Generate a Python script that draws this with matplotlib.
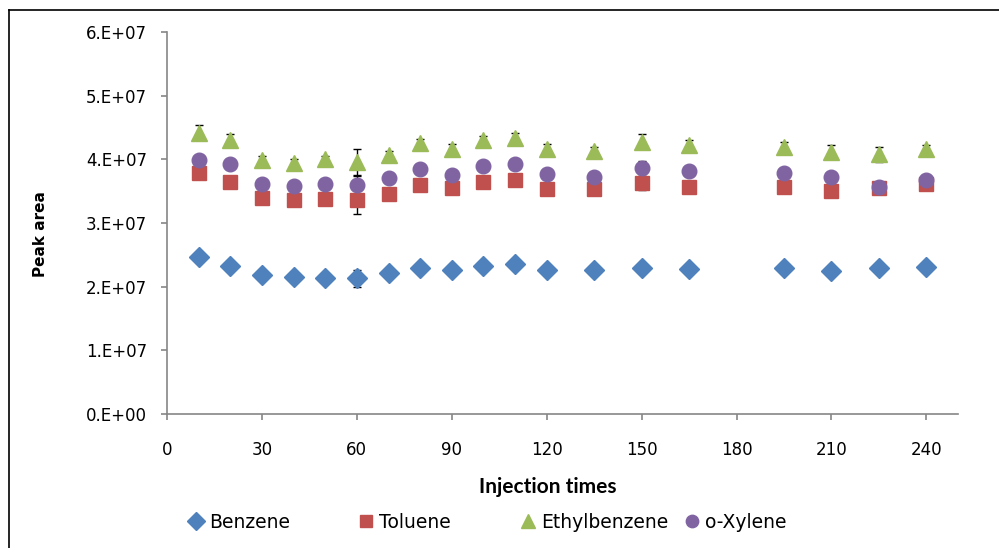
import matplotlib
matplotlib.use("Agg")
import matplotlib.pyplot as plt
from matplotlib.lines import Line2D
from matplotlib.ticker import FuncFormatter, MultipleLocator

plt.rcParams["font.family"] = ["DejaVu Sans"]

# injection times
x = [10, 20, 30, 40, 50, 60, 70, 80, 90, 100, 110, 120, 135, 150, 165, 195, 210, 225, 240]

# peak areas (units of 1e7)
benzene = [2.46, 2.33, 2.18, 2.155, 2.14, 2.13, 2.22, 2.29, 2.26, 2.33, 2.355, 2.26,
           2.26, 2.30, 2.28, 2.29, 2.245, 2.29, 2.31]
toluene = [3.79, 3.65, 3.40, 3.36, 3.38, 3.36, 3.45, 3.60, 3.55, 3.65, 3.67, 3.53,
           3.53, 3.63, 3.57, 3.57, 3.51, 3.55, 3.62]
ethylbenzene = [4.42, 4.30, 3.99, 3.95, 4.00, 3.96, 4.07, 4.25, 4.16, 4.31, 4.34, 4.17,
                4.13, 4.28, 4.23, 4.20, 4.11, 4.08, 4.17]
oxylene = [3.99, 3.92, 3.62, 3.58, 3.62, 3.59, 3.70, 3.85, 3.75, 3.90, 3.92, 3.77,
           3.73, 3.87, 3.82, 3.79, 3.73, 3.57, 3.67]

# standard deviations (units of 1e7)
benzene_err = [0.08, 0.06, 0.04, 0.03, 0.03, 0.135, 0.04, 0.05, 0.04, 0.04, 0.04, 0.05,
               0.03, 0.05, 0.04, 0.03, 0.05, 0.05, 0.03]
toluene_err = [0.06, 0.05, 0.05, 0.04, 0.04, 0.22, 0.05, 0.04, 0.05, 0.04, 0.04, 0.05,
               0.04, 0.11, 0.05, 0.05, 0.06, 0.05, 0.04]
ethylbenzene_err = [0.12, 0.10, 0.06, 0.05, 0.05, 0.20, 0.06, 0.07, 0.08, 0.06, 0.07, 0.07,
                    0.06, 0.12, 0.07, 0.08, 0.11, 0.12, 0.06]
oxylene_err = [0.05, 0.05, 0.05, 0.04, 0.04, 0.15, 0.04, 0.05, 0.05, 0.04, 0.05, 0.05,
               0.04, 0.10, 0.05, 0.05, 0.06, 0.05, 0.05]

series = [
    ("Benzene", benzene, benzene_err, "D", "#4F81BD", 10.5),
    ("Toluene", toluene, toluene_err, "s", "#C0504D", 10.0),
    ("Ethylbenzene", ethylbenzene, ethylbenzene_err, "^", "#9BBB59", 12.0),
    ("o-Xylene", oxylene, oxylene_err, "o", "#8064A2", 10.5),
]
# legend marker centres (figure fraction, x)
legend_x = [196 / 999, 366 / 999, 528 / 999, 692 / 999]

fig = plt.figure(figsize=(9.99, 5.48), dpi=100)
ax = fig.add_axes([0.1672, 0.2445, 0.7918, 0.6971])

for name, vals, err, mk, col, ms in series:
    ax.errorbar(x, [v * 1e7 for v in vals], yerr=[e * 1e7 for e in err],
                fmt=mk, color=col, ms=ms, mec=col, ecolor="black", elinewidth=1.0,
                capsize=3, capthick=1.0, label=name, zorder=3)

ax.set_xlim(0, 250)
ax.set_ylim(0, 6e7)
ax.xaxis.set_major_locator(MultipleLocator(30))
ax.yaxis.set_major_locator(MultipleLocator(1e7))
ax.yaxis.set_major_formatter(FuncFormatter(lambda v, p: "%#.0E" % v))

for s in ("top", "right"):
    ax.spines[s].set_visible(False)
for s in ("left", "bottom"):
    ax.spines[s].set_color("#868686")
    ax.spines[s].set_linewidth(1.2)
ax.tick_params(axis="both", colors="#868686", length=4.3, width=1.2, labelsize=12,
               labelcolor="black")
ax.tick_params(axis="x", pad=15)
ax.tick_params(axis="y", pad=10)

ax.set_xlabel("Injection times", fontsize=15, fontweight="bold", family="Lato")
ax.xaxis.set_label_coords(0.481, -0.165)
ax.set_ylabel("Peak area", fontsize=11, fontweight="bold")
ax.yaxis.set_label_coords(-0.150, 0.47)

for (name, vals, err, mk, col, ms), lx in zip(series, legend_x):
    h = Line2D([], [], ls="none", marker=mk, color=col, ms=ms * 0.85)
    fs = 13.5
    off = 0.5 * fs * 100 / 72 / 999
    fig.legend([h], [name], loc="center left", bbox_to_anchor=(lx - off, 0.047),
               frameon=False, fontsize=fs, borderpad=0, borderaxespad=0,
               handlelength=1.0, handletextpad=0.2)

# chart border (top and left edges visible)
fig.add_artist(Line2D([9 / 999, 1.0], [1 - 10 / 548, 1 - 10 / 548],
                      color="black", lw=1.2, transform=fig.transFigure))
fig.add_artist(Line2D([9 / 999, 9 / 999], [0.0, 1 - 10 / 548],
                      color="black", lw=1.2, transform=fig.transFigure))

fig.savefig("out.png", dpi=100)
